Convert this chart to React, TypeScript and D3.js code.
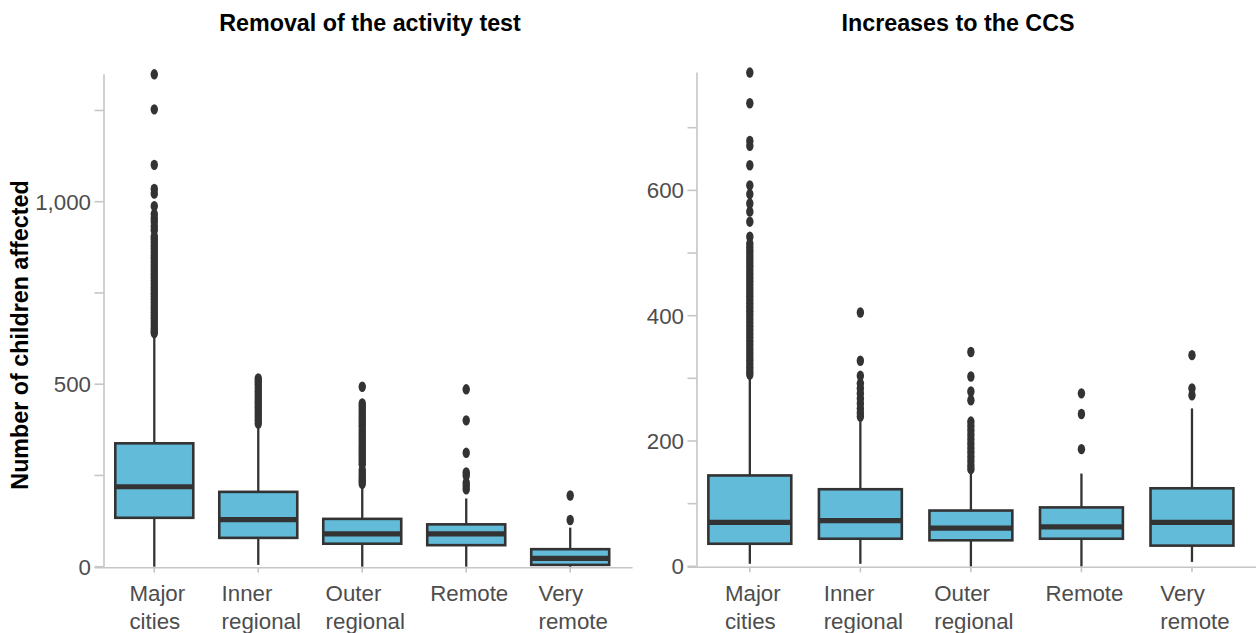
import React from "react";
import * as d3 from "d3";

// Remoteness areas shown along the x axis of both panels
const CATEGORIES = ["Major cities", "Inner regional", "Outer regional", "Remote", "Very remote"];

// Panel 1: removal of the activity test — box statistics per area
const ACT_LOW = [0, 5, 0, 0, 0];
const ACT_Q1 = [134, 79, 63, 59, 5];
const ACT_MEDIAN = [219, 129, 90, 90, 23];
const ACT_Q3 = [338, 205, 131, 116, 48];
const ACT_HIGH = [636, 384, 219, 187, 107];
const ACT_OUT_MAJOR = [1349, 1253, 1101, 1035, 1022, 988, 966, 955, 945, 932, 922, 905, 897, 888, 879, 871, 862, 853, 845, 836, 827, 819, 810, 801, 793, 784, 775, 766, 758, 749, 741, 732, 723, 714, 706, 697, 688, 680, 671, 662, 653, 645, 640];
const ACT_OUT_INNER = [516, 508, 500, 490, 481, 472, 463, 454, 446, 437, 428, 419, 410, 401, 392];
const ACT_OUT_OUTER = [493, 447, 440, 432, 424, 416, 408, 400, 392, 385, 375, 367, 359, 351, 343, 335, 327, 319, 311, 303, 296, 288, 281, 265, 257, 249, 241, 234, 227];
const ACT_OUT_REMOTE = [486, 401, 312, 258, 250, 230, 221, 212];
const ACT_OUT_VREMOTE = [195, 128];

// Panel 2: increases to the CCS — box statistics per area
const CCS_LOW = [4, 4, 0, 0, 7];
const CCS_Q1 = [36, 44, 41.5, 44, 33];
const CCS_MEDIAN = [70, 73, 61, 63, 70];
const CCS_Q3 = [145, 123, 89, 94, 124.5];
const CCS_HIGH = [303, 234, 151, 148, 252];
const CCS_OUT_MAJOR = [788, 739, 679, 671, 640, 608, 594, 579, 566, 550, 526, 515, 509, 503, 497, 491, 485, 479, 473, 467, 461, 455, 449, 443, 437, 431, 425, 419, 413, 407, 401, 395, 389, 383, 377, 371, 365, 359, 353, 347, 341, 335, 329, 323, 317, 311, 306];
const CCS_OUT_INNER = [405, 328, 304, 292, 284, 276, 268, 260, 252, 245, 239];
const CCS_OUT_OUTER = [342, 303, 279, 265, 231, 224, 217, 210, 203, 196, 189, 182, 175, 168, 161, 155];
const CCS_OUT_REMOTE = [276, 243, 187];
const CCS_OUT_VREMOTE = [337, 284, 273];

// Axis ticks
const ACT_TICKS = [0, 250, 500, 750, 1000, 1250];
const ACT_LABELLED = [0, 500, 1000];
const CCS_TICKS = [0, 100, 200, 300, 400, 500, 600, 700];
const CCS_LABELLED = [0, 200, 400, 600];

const TITLE_ACT = "Removal of the activity test";
const TITLE_CCS = "Increases to the CCS";
const Y_TITLE = "Number of children affected";

const FONT = "'Liberation Sans', Arial, Helvetica, sans-serif";
const FILL = "#63bbda";
const INK = "#333333";
const AXIS = "#c6c6c6";
const LABEL = "#4d4d4d";
const TICK_SIZE = 22.3;
const TITLE_SIZE = 23.3;

type Stats = { low: number; q1: number; median: number; q3: number; high: number; outliers: number[] };

function buildStats(low: number[], q1: number[], med: number[], q3: number[], high: number[], outs: number[][]): Stats[] {
  return CATEGORIES.map((_, i) => ({ low: low[i], q1: q1[i], median: med[i], q3: q3[i], high: high[i], outliers: outs[i] }));
}

const ACT_STATS = buildStats(ACT_LOW, ACT_Q1, ACT_MEDIAN, ACT_Q3, ACT_HIGH,
  [ACT_OUT_MAJOR, ACT_OUT_INNER, ACT_OUT_OUTER, ACT_OUT_REMOTE, ACT_OUT_VREMOTE]);
const CCS_STATS = buildStats(CCS_LOW, CCS_Q1, CCS_MEDIAN, CCS_Q3, CCS_HIGH,
  [CCS_OUT_MAJOR, CCS_OUT_INNER, CCS_OUT_OUTER, CCS_OUT_REMOTE, CCS_OUT_VREMOTE]);

let measureCtx: CanvasRenderingContext2D | null = null;
function textWidth(s: string, size: number): number {
  if (!measureCtx) {
    const c = document.createElement("canvas");
    measureCtx = c.getContext("2d");
  }
  if (!measureCtx) return s.length * size * 0.5;
  measureCtx.font = `${size}px ${FONT}`;
  return measureCtx.measureText(s).width;
}

type PanelProps = {
  stats: Stats[];
  title: string;
  titleX: number;
  xRange: [number, number];
  axisX: number;
  yScale: d3.ScaleLinear<number, number>;
  ticks: number[];
  labelled: number[];
  xAxisEnd: number;
};

function Panel({ stats, title, titleX, xRange, axisX, yScale, ticks, labelled, xAxisEnd }: PanelProps) {
  const x = d3.scalePoint<string>().domain(CATEGORIES).range(xRange).padding(0.6);
  const step = x.step();
  const boxW = step * 0.75;
  const y0 = yScale(0);
  const maxVal = d3.max(stats, (s) => d3.max([s.high, ...s.outliers]) as number) as number;
  const fmt = d3.format(",");

  return (
    <g>
      <text x={titleX} y={31} textAnchor="middle" fontFamily={FONT} fontWeight="bold" fontSize={TITLE_SIZE} fill="#000">
        {title}
      </text>

      {/* y axis */}
      <line x1={axisX} x2={axisX} y1={y0} y2={yScale(maxVal)} stroke={AXIS} strokeWidth={1.6} />
      {ticks.map((t) => (
        <line key={"t" + t} x1={axisX - 9.5} x2={axisX} y1={yScale(t)} y2={yScale(t)} stroke={AXIS} strokeWidth={1.6} />
      ))}
      {labelled.map((t) => (
        <text key={"l" + t} x={axisX - 13} y={yScale(t)} dy="0.36em" textAnchor="end"
          fontFamily={FONT} fontSize={TICK_SIZE} fill={LABEL}>
          {fmt(t)}
        </text>
      ))}

      {/* x axis */}
      <line x1={axisX - 9.5} x2={xAxisEnd} y1={y0 + 1} y2={y0 + 1} stroke={AXIS} strokeWidth={1.6} />
      {CATEGORIES.map((c) => (
        <line key={"xt" + c} x1={x(c)} x2={x(c)} y1={y0 + 1} y2={y0 + 6} stroke={AXIS} strokeWidth={1.6} />
      ))}
      {CATEGORIES.map((c) => {
        const lines = c.split(" ");
        const w = Math.max(...lines.map((l) => textWidth(l, TICK_SIZE)));
        const left = (x(c) as number) - w / 2 + 3;
        return (
          <text key={"xl" + c} fontFamily={FONT} fontSize={TICK_SIZE} fill={LABEL}>
            {lines.map((l, i) => (
              <tspan key={i} x={left} y={601 + i * 27.5}>{l}</tspan>
            ))}
          </text>
        );
      })}

      {/* boxes */}
      {stats.map((s, i) => {
        const cx = x(CATEGORIES[i]) as number;
        return (
          <g key={"b" + i}>
            <line x1={cx} x2={cx} y1={yScale(s.q3)} y2={yScale(s.high)} stroke={INK} strokeWidth={2.3} />
            <line x1={cx} x2={cx} y1={yScale(s.q1)} y2={yScale(s.low)} stroke={INK} strokeWidth={2.3} />
            <rect x={cx - boxW / 2} width={boxW} y={yScale(s.q3)} height={yScale(s.q1) - yScale(s.q3)}
              fill={FILL} stroke={INK} strokeWidth={2.6} />
            <line x1={cx - boxW / 2} x2={cx + boxW / 2} y1={yScale(s.median)} y2={yScale(s.median)}
              stroke={INK} strokeWidth={5.2} />
            {s.outliers.map((v, j) => (
              <ellipse key={j} cx={cx} cy={yScale(v)} rx={3.7} ry={5.2} fill={INK} />
            ))}
          </g>
        );
      })}
    </g>
  );
}

export default function App() {
  const yAct = d3.scaleLinear().domain([0, 1000]).range([566.7, 201.7]);
  const yCcs = d3.scaleLinear().domain([0, 700]).range([566.3, 127.7]);
  return (
    <svg width={1256} height={633} style={{ position: "absolute", left: 0, top: 0, display: "block", background: "#fff" }}>
      <text transform="translate(28,335) rotate(-90)" textAnchor="middle" fontFamily={FONT}
        fontWeight="bold" fontSize={TITLE_SIZE} fill="#000">
        {Y_TITLE}
      </text>
      <Panel stats={ACT_STATS} title={TITLE_ACT} titleX={370} xRange={[91.9, 632.6]} axisX={104}
        yScale={yAct} ticks={ACT_TICKS} labelled={ACT_LABELLED} xAxisEnd={632.6} />
      <Panel stats={CCS_STATS} title={TITLE_CCS} titleX={958} xRange={[683.5, 1258.3]} axisX={697}
        yScale={yCcs} ticks={CCS_TICKS} labelled={CCS_LABELLED} xAxisEnd={1256} />
    </svg>
  );
}
